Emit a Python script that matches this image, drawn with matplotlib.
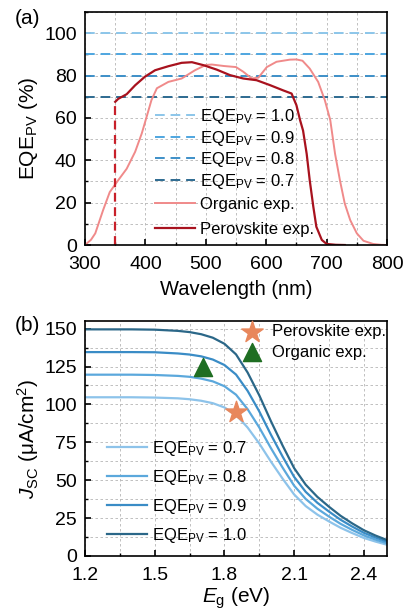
import matplotlib
matplotlib.use("Agg")
import matplotlib.pyplot as plt
from matplotlib.ticker import MultipleLocator

plt.rcParams["font.family"] = ["Liberation Sans", "DejaVu Sans"]
plt.rcParams["mathtext.fontset"] = "custom"
plt.rcParams["mathtext.rm"] = "Liberation Sans"
plt.rcParams["mathtext.it"] = "Liberation Sans:italic"
plt.rcParams["mathtext.bf"] = "Liberation Sans:bold"

# ---- panel (a) data ----
eqe_levels = [100, 90, 80, 70]
eqe_labels = ["1.0", "0.9", "0.8", "0.7"]
eqe_colors_a = ["#8cc6ea", "#4ea6e0", "#3d8fc8", "#2d6a90"]

org_wl = [300, 310, 317, 330, 341, 355, 369, 383, 394, 402, 410, 419, 438, 460,
          482, 500, 510, 530, 550, 562, 576, 587, 601, 617, 639, 650, 660, 672,
          686, 697, 706, 714, 722, 730, 739, 750, 761, 777, 790, 800]
org_eqe = [0, 2.5, 5.5, 16.5, 25, 30.6, 36, 44, 52.7, 60.5, 68.4, 74, 77, 78.6,
           82.5, 85, 85.2, 84.5, 84, 81.8, 78.6, 79, 84, 86.5, 87.5, 87.6, 87, 83.3,
           77, 68.4, 59, 43, 30.6, 19.6, 11.8, 5.5, 2, 0.5, 0.1, 0]

pero_wl = [350, 355, 369, 383, 399, 416, 438, 460, 477, 496, 518, 540, 562, 584,
           606, 628, 642, 650, 656, 661, 667, 672, 678, 683, 692, 700, 715, 730]
pero_eqe = [67.6, 69, 71.2, 75.4, 79.4, 82.5, 84.4, 86, 86.3, 84.9, 82.8, 80.2, 78.6, 77.8,
            75.5, 73, 71.5, 66, 59, 54, 43, 30.6, 18, 8.6, 2.4, 0.5, 0.1, 0]

# ---- panel (b) data ----
eg = [1.2, 1.3, 1.4, 1.5, 1.6, 1.65, 1.7, 1.75, 1.8, 1.85, 1.9, 1.95, 2.0, 2.05,
      2.1, 2.15, 2.2, 2.25, 2.3, 2.35, 2.4, 2.45, 2.5]
jsc_07 = [104.7, 104.7, 104.7, 104.5, 104, 103.4, 102.4, 100.8, 98, 93.1, 84.7, 74.2,
          62.3, 51.1, 40.6, 32.9, 27.3, 22.8, 18.6, 15.1, 11.9, 9.5, 7.4]
jsc_08 = [119.6, 119.6, 119.6, 119.4, 118.8, 118.2, 117, 115.2, 112, 106.4, 96.8, 84.8,
          71.2, 58.4, 46.4, 37.6, 31.2, 26, 21.2, 17.2, 13.6, 10.8, 8.4]
jsc_09 = [134.5, 134.5, 134.5, 134.4, 133.6, 132.9, 131.7, 129.6, 126, 119.7, 108.9, 95.4,
          80.1, 65.7, 52.2, 42.3, 35.1, 29.3, 23.9, 19.4, 15.3, 12.2, 9.5]
jsc_10 = [149.5, 149.5, 149.5, 149.3, 148.5, 147.7, 146.3, 144, 140, 133, 121, 106,
          89, 73, 58, 47, 39, 32.5, 26.5, 21.5, 17, 13.5, 10.5]
curve_labels_b = ["0.7", "0.8", "0.9", "1.0"]
curve_colors_b = ["#8dc3ea", "#5ba8dc", "#3a8cc6", "#2b6788"]

pero_point = (1.85, 95)
org_point = (1.71, 125)


def style_axes(ax):
    ax.tick_params(which="both", direction="in", top=False, right=False)
    ax.tick_params(which="major", length=4.5, width=1.2, labelsize=14)
    ax.tick_params(axis="x", which="major", pad=8)
    ax.tick_params(axis="y", which="major", pad=6)
    ax.tick_params(which="minor", length=2.5, width=1.0)
    for s in ax.spines.values():
        s.set_linewidth(1.2)
    ax.grid(True, which="both", linestyle=(0, (3, 3)), linewidth=0.6, color="#b5b5b5")
    ax.set_axisbelow(True)


fig = plt.figure(figsize=(4.04, 6.15), dpi=100)

# (a)
ax1 = fig.add_axes([0.2104, 0.6016, 0.7476, 0.3789])
eqe_handles = []
for lvl, lab, col in zip(eqe_levels, eqe_labels, eqe_colors_a):
    h = ax1.axhline(lvl, color=col, linestyle=(0, (5, 3)), linewidth=1.4,
                    label=r"EQE$_\mathregular{PV}$ = " + lab)
    eqe_handles.append(h)
h_org, = ax1.plot(org_wl, org_eqe, color="#f08a8a", linewidth=1.4, label="Organic exp.")
h_pero, = ax1.plot(pero_wl, pero_eqe, color="#a8121e", linewidth=1.6, label="Perovskite exp.")
ax1.plot([pero_wl[0], pero_wl[0]], [0, pero_eqe[0]], color="#c8202a",
         linestyle=(0, (4, 2.5)), linewidth=1.6)
ax1.set_xlim(300, 800)
ax1.set_ylim(0, 110)
ax1.xaxis.set_major_locator(MultipleLocator(100))
ax1.xaxis.set_minor_locator(MultipleLocator(50))
ax1.yaxis.set_major_locator(MultipleLocator(20))
ax1.yaxis.set_minor_locator(MultipleLocator(10))
style_axes(ax1)
ax1.set_xlabel("Wavelength (nm)", fontsize=14.5, labelpad=5)
ax1.set_ylabel(r"EQE$_\mathregular{PV}$ (%)", fontsize=15, labelpad=3)
leg_a1 = ax1.legend(handles=eqe_handles, loc="upper left", bbox_to_anchor=(0.21, 0.62),
                    frameon=False, fontsize=12, handlelength=2.4, handletextpad=0.3,
                    labelspacing=0.15, borderaxespad=0)
ax1.add_artist(leg_a1)
ax1.legend(handles=[h_org, h_pero], loc="upper left", bbox_to_anchor=(0.21, 0.235),
           frameon=False, fontsize=12, handlelength=2.4, handletextpad=0.3,
           labelspacing=0.6, borderaxespad=0)
fig.text(0.037, 0.985, "(a)", fontsize=15, va="top")

# (b)
ax2 = fig.add_axes([0.2104, 0.096, 0.7476, 0.382])
for ys, lab, col in zip([jsc_07, jsc_08, jsc_09, jsc_10], curve_labels_b, curve_colors_b):
    ax2.plot(eg, ys, color=col, linewidth=1.6, label=r"EQE$_\mathregular{PV}$ = " + lab)
leg_lines = ax2.legend(loc="upper left", bbox_to_anchor=(0.05, 0.525), frameon=False,
                       fontsize=12, handlelength=2.4, handletextpad=0.3,
                       labelspacing=0.6, borderaxespad=0)
ax2.add_artist(leg_lines)
star = ax2.scatter([pero_point[0]], [pero_point[1]], marker="*", s=260,
                   color="#e8875c", zorder=5, label="Perovskite exp.")
tri = ax2.scatter([org_point[0]], [org_point[1]], marker="^", s=170,
                  color="#1f6e22", zorder=5, label="Organic exp.")
ax2.legend(handles=[star, tri], loc="upper right", bbox_to_anchor=(1.03, 1.03),
           frameon=False, fontsize=12, handletextpad=0.2, labelspacing=0.35,
           borderaxespad=0.2, scatterpoints=1)
ax2.set_xlim(1.2, 2.5)
ax2.set_ylim(0, 155)
ax2.xaxis.set_major_locator(MultipleLocator(0.3))
ax2.xaxis.set_minor_locator(MultipleLocator(0.15))
ax2.yaxis.set_major_locator(MultipleLocator(25))
ax2.yaxis.set_minor_locator(MultipleLocator(12.5))
style_axes(ax2)
ax2.set_xlabel(r"$E_\mathregular{g}$ (eV)", fontsize=15, labelpad=1)
ax2.set_ylabel(r"$J_\mathregular{SC}$ ($\mathregular{\mu}$A/cm$^\mathregular{2}$)",
               fontsize=15, labelpad=2)
fig.text(0.037, 0.486, "(b)", fontsize=15, va="top")

fig.savefig("out.png", dpi=100)
